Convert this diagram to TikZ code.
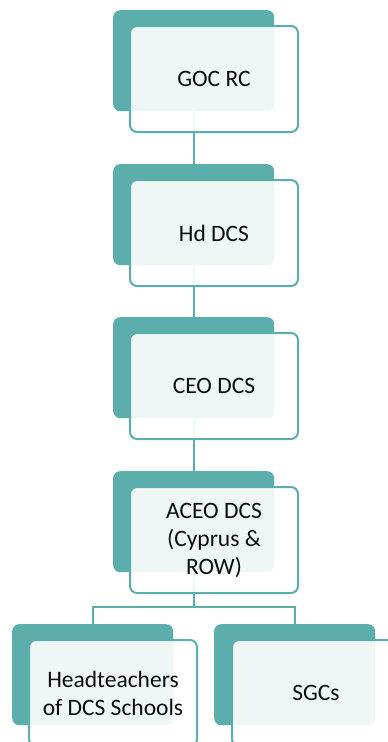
\documentclass[tikz,border=0pt]{standalone}
\usepackage{fontspec}
\setmainfont{Carlito}
\definecolor{teal1}{RGB}{91,174,172}
\pgfdeclarelayer{bg}
\pgfsetlayers{bg,main}
\begin{document}
\begin{tikzpicture}[x=1pt,y=-1pt,
  back/.style={fill=teal1, rounded corners=7pt, minimum width=161pt, minimum height=101pt, inner sep=0pt, anchor=north west},
  front/.style={draw=teal1, line width=2pt, fill=white, fill opacity=0.9, text opacity=1, rounded corners=7pt, minimum width=168pt, minimum height=106pt, anchor=north west, align=center, font=\fontsize{23.5}{28}\selectfont, text=black!95, inner sep=0pt},
  link/.style={draw=teal1, line width=2pt}]
\useasboundingbox (0,0) rectangle (388,742);
\clip (0,0) rectangle (388,742);
% unit 1
\node[back] (b1) at (113,10) {};
\node[front] (f1) at (129,25) {GOC RC};
% unit 2
\node[back] (b2) at (113,164) {};
\node[front] (f2) at (129,179) {Hd DCS};
% unit 3
\node[back] (b3) at (113,317) {};
\node[front] (f3) at (129,332) {CEO DCS};
% unit 4
\node[back] (b4) at (113,471) {};
\node[front] (f4) at (129,486) {ACEO DCS\\(Cyprus \&\\ROW)};
% unit 5
\node[back] (b5) at (12,624) {};
\node[front] (f5) at (28,639) {Headteachers\\of DCS Schools};
% unit 6
\node[back] (b6) at (214,624) {};
\node[front] (f6) at (231,639) {SGCs};
\begin{pgfonlayer}{bg}
\draw[link] (b1.south) -- (b2.north);
\draw[link] (b2.south) -- (b3.north);
\draw[link] (b3.south) -- (b4.north);
\draw[link] (b4.south) -- ++(0,35) -| (b5.north);
\draw[link] (b4.south) -- ++(0,35) -| (b6.north);
\end{pgfonlayer}
\end{tikzpicture}
\end{document}
